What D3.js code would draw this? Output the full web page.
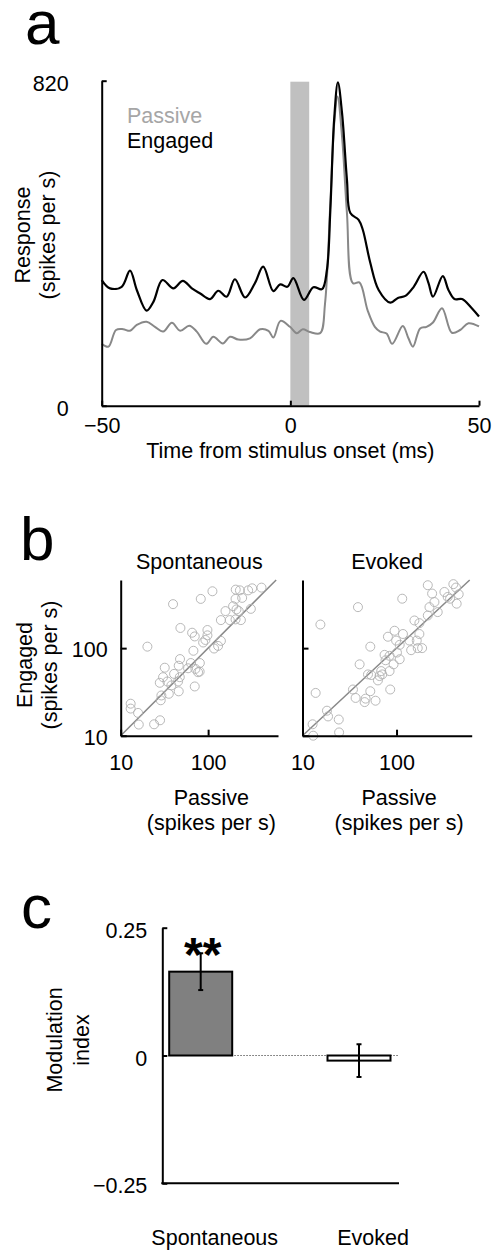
<!DOCTYPE html>
<html lang="en">
<head>
    <meta charset="UTF-8">
    <title>Passive vs engaged responses</title>
    <script src="https://d3js.org/d3.v7.min.js"></script>
    <style>
        body { margin: 0; background: #fff; }
        svg { display: block; font-family: "Liberation Sans", Arial, sans-serif; }
        .lbl { font-size: 21.5px; fill: #000; }
        .panel { font-size: 62px; fill: #000; }
    </style>
</head>
<body>
<script>
    // ---- panel a: PSTH (time in ms, response in spikes per s)
    const engagedT = [-50, -47.8, -44.7, -42.5, -40.7, -38.1, -36.3, -33.9, -31, -28.5, -26.1, -23.9, -21.3, -19.1, -16.9, -14.7, -12, -9.4, -7.2, -4.5, -2.7, -0.8, 0.8, 3.6, 6.1, 8.4, 9.7, 10.6, 11.6, 12.6, 13.7, 15, 15.9, 18.1, 19.2, 21.2, 23.4, 26.5, 28.5, 30.5, 32.7, 35.3, 36.6, 37.8, 40.4, 41.9, 43.5, 45.5, 48.1, 50];
    const engagedR = [317, 296, 300, 341, 292, 240, 262, 317, 296, 315, 296, 283, 269, 290, 275, 319, 273, 309, 351, 289, 306, 300, 322, 267, 299, 294, 343, 494, 721, 816, 738, 570, 486, 469, 444, 360, 292, 260, 272, 277, 300, 338, 310, 275, 327, 292, 269, 269, 246, 225];
    const passiveT = [-50, -48.2, -46.2, -44.3, -42.5, -40.7, -38.1, -35.9, -33.7, -31.4, -29.2, -26.8, -24.8, -22.3, -20.4, -17.9, -16, -13.8, -10.7, -8, -5.8, -4.5, -2.6, -0.1, 1.7, 3.3, 5.2, 7.9, 9.2, 10.6, 11.7, 12.5, 13.7, 15, 16.6, 18.3, 20.5, 22.4, 23.8, 25.5, 27, 29.8, 31.3, 32.5, 34.4, 36.1, 37.8, 40.2, 42.8, 45, 47.2, 50];
    const passiveR = [156, 149, 191, 193, 189, 204, 212, 199, 187, 209, 189, 202, 187, 156, 174, 157, 174, 167, 170, 193, 189, 172, 214, 199, 183, 193, 186, 183, 259, 511, 721, 780, 679, 486, 309, 311, 240, 199, 187, 182, 156, 201, 170, 149, 195, 199, 210, 246, 184, 191, 208, 200];
    const stimWindow = [0, 5];
    const timeTicks = [-50, 0, 50];
    const respTicks = [0, 820];

    // ---- panel b: per-neuron rates (passive, engaged)
    const spontPassive = [13.0, 13.0, 15.8, 16.1, 24.1, 28.2, 20.2, 39.7, 82.4, 112, 207, 231, 287, 319, 408, 206, 245, 193, 211, 158, 224, 308, 140, 177, 206, 237, 48.2, 65.6, 70.3, 98.2, 98.2, 93.1, 87.7, 140, 130, 117, 67.9, 47.7, 46.1, 63.4, 59, 80.4, 71.6, 76.7, 80, 31.9, 30.5, 40.8, 47.4, 28, 34.2, 45.3, 38, 46.1, 70.3, 29.2, 35.5, 28.7];
    const spontEngaged = [23.2, 20.4, 18.2, 13.4, 13.5, 15.0, 104, 318, 365, 446, 466, 457, 457, 482, 491, 365, 375, 301, 277, 265, 265, 281, 209, 209, 213, 209, 170, 150, 136, 161, 140, 124, 116, 121, 106, 99, 93.3, 75, 63, 67.6, 58.9, 67.6, 57.9, 53.1, 54, 59.8, 46.6, 50.8, 46.6, 40.2, 41.6, 41.6, 37.5, 32.1, 36.5, 28.8, 30.1, 25.4];
    const evokedPassive = [13, 12.8, 18.2, 18.7, 24.3, 24.5, 13.8, 15.5, 38.9, 115, 215, 239, 253, 224, 274, 323, 402, 429, 458, 436, 371, 350, 215, 155, 175, 175, 164, 187, 168, 143, 137, 117, 95.3, 81, 99, 108, 101, 108, 93, 84.3, 74.6, 76.4, 84.3, 68.7, 66, 63.4, 52.6, 40.5, 49.7, 53.8, 85.7, 52.6, 34.4, 36.7, 46.9, 45.8, 59.8, 70.5];
    const evokedEngaged = [10, 13.5, 19.3, 16.6, 15.3, 10.9, 30.8, 186, 294, 367, 523, 420, 336, 294, 258, 438, 538, 492, 412, 322, 367, 384, 236, 207, 193, 145, 122, 100, 100, 94.8, 122, 145, 158, 135, 122, 109, 89, 74.7, 65.3, 81.7, 83.8, 72.7, 54.7, 54.7, 48, 42.8, 104, 65.3, 50.1, 49.3, 33.7, 32.2, 33.7, 27, 26.5, 24.2, 25.1, 50.1];
    const rateTicks = [10, 100];

    // ---- panel c: modulation index
    const conditions = ["Spontaneous", "Evoked"];
    const modIndex = [0.164, -0.010];
    const modErr = [0.036, 0.032];
    const modTicks = [-0.25, 0, 0.25];

    const W = 492, H = 1254;
    const svg = d3.select("body").append("svg")
        .attr("width", W)
        .attr("height", H);

    function styleAxis(g) {
        g.attr("font-family", null).attr("font-size", null);
        g.select(".domain").attr("stroke", "#000").attr("stroke-width", 2);
        g.selectAll(".tick line").attr("stroke", "#000").attr("stroke-width", 2);
        g.selectAll(".tick text").attr("class", "lbl").attr("fill", "#000");
    }

    // ================= a =================
    svg.append("text").attr("class", "panel").attr("x", 25).attr("y", 44).text("a");

    const xA = d3.scaleLinear().domain([-50, 50]).range([101.7, 479]);
    const yA = d3.scaleLinear().domain([0, 820]).range([405.7, 80.7]);

    svg.append("rect")
        .attr("x", xA(stimWindow[0]))
        .attr("y", yA(820) + 1)
        .attr("width", xA(stimWindow[1]) - xA(stimWindow[0]))
        .attr("height", yA(0) - yA(820) - 1)
        .attr("fill", "#c0c0c0");

    const lineA = d3.line()
        .x(d => xA(d[0]))
        .y(d => yA(d[1]))
        .curve(d3.curveCatmullRom.alpha(0.5));

    svg.append("path")
        .datum(passiveT.map((t, i) => [t, passiveR[i]]))
        .attr("d", lineA)
        .attr("fill", "none")
        .attr("stroke", "#888")
        .attr("stroke-width", 2);

    svg.append("path")
        .datum(engagedT.map((t, i) => [t, engagedR[i]]))
        .attr("d", lineA)
        .attr("fill", "none")
        .attr("stroke", "#000")
        .attr("stroke-width", 2.2);

    svg.append("g")
        .attr("transform", `translate(0,${yA(0)})`)
        .call(d3.axisBottom(xA).tickValues(timeTicks).tickSizeInner(-5).tickSizeOuter(0).tickPadding(12))
        .call(styleAxis);

    svg.append("g")
        .attr("transform", `translate(${xA(-50)},0)`)
        .call(d3.axisLeft(yA).tickValues(respTicks).tickSizeInner(-5).tickSizeOuter(0).tickPadding(33))
        .call(styleAxis)
        .selectAll(".tick text").attr("dy", "0.45em");

    svg.append("text").attr("class", "lbl").attr("x", 127).attr("y", 122.7)
        .style("fill", "#a6a6a6").text("Passive");
    svg.append("text").attr("class", "lbl").attr("x", 127).attr("y", 148.3).text("Engaged");

    svg.append("text").attr("class", "lbl").attr("text-anchor", "middle")
        .attr("x", xA(0)).attr("y", 458).text("Time from stimulus onset (ms)");

    const yLabA = svg.append("text").attr("class", "lbl").attr("text-anchor", "middle")
        .attr("transform", "translate(0,235) rotate(-90)");
    yLabA.append("tspan").attr("x", 0).attr("y", 30).text("Response");
    yLabA.append("tspan").attr("x", 0).attr("y", 55).text("(spikes per s)");

    // ================= b =================
    svg.append("text").attr("class", "panel").attr("x", 20).attr("y", 560).text("b");

    const yB = d3.scaleLog().domain([10, 600]).range([735.7, 580]);

    function scatter(x0, x1, title, px, py, showY) {
        const xB = d3.scaleLog().domain([10, 630]).range([x0, x1]);
        const g = svg.append("g");

        g.append("line")
            .attr("x1", xB(10)).attr("y1", yB(10))
            .attr("x2", xB(600)).attr("y2", yB(600))
            .attr("stroke", "#888").attr("stroke-width", 1.5);

        g.selectAll("circle")
            .data(px.map((p, i) => [p, py[i]]))
            .join("circle")
            .attr("cx", d => xB(d[0]))
            .attr("cy", d => yB(d[1]))
            .attr("r", 4.5)
            .attr("fill", "none")
            .attr("stroke", "#b0b0b0")
            .attr("stroke-width", 0.9);

        g.append("g")
            .attr("transform", `translate(0,${yB(10)})`)
            .call(d3.axisBottom(xB).tickValues(rateTicks).tickFormat(d3.format("d")).tickSizeInner(-6).tickSizeOuter(0).tickPadding(19))
            .call(styleAxis);

        const yAxisB = d3.axisLeft(yB).tickValues(rateTicks).tickSizeInner(-6).tickSizeOuter(0).tickPadding(13)
            .tickFormat(showY ? d3.format("d") : () => "");
        g.append("g")
            .attr("transform", `translate(${xB(10)},0)`)
            .call(yAxisB)
            .call(styleAxis)
            .selectAll(".tick text").attr("dy", "0.4em");

        const cx = (xB(10) + xB(630)) / 2;
        g.append("text").attr("class", "lbl").attr("text-anchor", "middle")
            .attr("x", cx).attr("y", 569).text(title);
        g.append("text").attr("class", "lbl").attr("text-anchor", "middle")
            .attr("x", cx + 12).attr("y", 805).text("Passive");
        g.append("text").attr("class", "lbl").attr("text-anchor", "middle")
            .attr("x", cx + 12).attr("y", 830).text("(spikes per s)");
    }

    scatter(120.7, 278, "Spontaneous", spontPassive, spontEngaged, true);
    scatter(302.5, 471.7, "Evoked", evokedPassive, evokedEngaged, false);

    const yLabB = svg.append("text").attr("class", "lbl").attr("text-anchor", "middle")
        .attr("transform", "translate(0,665) rotate(-90)");
    yLabB.append("tspan").attr("x", 0).attr("y", 32).text("Engaged");
    yLabB.append("tspan").attr("x", 0).attr("y", 57).text("(spikes per s)");

    // ================= c =================
    svg.append("text").attr("class", "panel").attr("x", 21).attr("y", 928).text("c");

    const yC = d3.scaleLinear().domain([-0.25, 0.25]).range([1183.3, 927.7]);
    const xC = d3.scalePoint().domain(conditions).range([200.7, 359]);
    const barW = 63;
    const axisX = 162.3, axisEnd = 399;

    svg.append("line")
        .attr("x1", axisX).attr("x2", axisEnd)
        .attr("y1", yC(0)).attr("y2", yC(0))
        .attr("stroke", "#666").attr("stroke-width", 1)
        .attr("stroke-dasharray", "1.5,1.5");

    svg.selectAll("rect.bar")
        .data(conditions)
        .join("rect")
        .attr("class", "bar")
        .attr("x", d => xC(d) - barW / 2)
        .attr("width", barW)
        .attr("y", (d, i) => yC(Math.max(0, modIndex[i])))
        .attr("height", (d, i) => Math.abs(yC(modIndex[i]) - yC(0)))
        .attr("fill", (d, i) => i === 0 ? "#808080" : "#fff")
        .attr("stroke", "#000")
        .attr("stroke-width", 2);

    const eb = svg.selectAll("g.eb")
        .data(conditions)
        .join("g")
        .attr("class", "eb");
    eb.append("line")
        .attr("x1", d => xC(d)).attr("x2", d => xC(d))
        .attr("y1", (d, i) => yC(modIndex[i] + modErr[i]))
        .attr("y2", (d, i) => yC(modIndex[i] - modErr[i]))
        .attr("stroke", "#000").attr("stroke-width", 2);
    eb.selectAll("line.cap")
        .data((d, i) => [[d, modIndex[i] + modErr[i]], [d, modIndex[i] - modErr[i]]])
        .join("line")
        .attr("class", "cap")
        .attr("x1", d => xC(d[0]) - 2.5).attr("x2", d => xC(d[0]) + 2.5)
        .attr("y1", d => yC(d[1])).attr("y2", d => yC(d[1]))
        .attr("stroke", "#000").attr("stroke-width", 2);

    svg.append("text")
        .attr("x", xC("Spontaneous") + 2)
        .attr("y", yC(modIndex[0] + modErr[0]) + 18)
        .attr("text-anchor", "middle")
        .attr("font-size", 48)
        .attr("font-weight", "bold")
        .text("**");

    svg.append("g")
        .attr("transform", `translate(${axisX},0)`)
        .call(d3.axisLeft(yC).tickValues(modTicks).tickFormat(d => d === 0 ? "0" : d3.format(".2f")(d))
            .tickSizeInner(-5).tickSizeOuter(0).tickPadding(15))
        .call(styleAxis)
        .selectAll(".tick text").attr("dy", "0.45em");

    svg.append("line")
        .attr("x1", axisX - 1).attr("x2", axisEnd)
        .attr("y1", yC(-0.25)).attr("y2", yC(-0.25))
        .attr("stroke", "#000").attr("stroke-width", 2);

    svg.selectAll("text.catlbl")
        .data(conditions)
        .join("text")
        .attr("class", "lbl catlbl")
        .attr("text-anchor", "middle")
        .attr("x", d => xC(d) + 14)
        .attr("y", 1245)
        .text(d => d);

    const yLabC = svg.append("text").attr("class", "lbl").attr("text-anchor", "middle")
        .attr("transform", "translate(0,1040) rotate(-90)");
    yLabC.append("tspan").attr("x", 0).attr("y", 62).text("Modulation");
    yLabC.append("tspan").attr("x", 0).attr("y", 89).text("index");
</script>
</body>
</html>
